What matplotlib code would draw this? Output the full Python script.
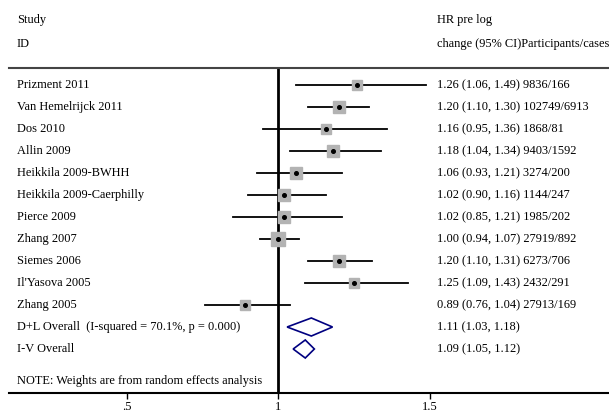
import numpy as np
import matplotlib.pyplot as plt

studies = ["Prizment 2011", "Van Hemelrijck 2011", "Dos 2010", "Allin 2009",
           "Heikkila 2009-BWHH", "Heikkila 2009-Caerphilly", "Pierce 2009",
           "Zhang 2007", "Siemes 2006", "Il'Yasova 2005", "Zhang 2005"]
hr = [1.26, 1.20, 1.16, 1.18, 1.06, 1.02, 1.02, 1.00, 1.20, 1.25, 0.89]
lo = [1.06, 1.10, 0.95, 1.04, 0.93, 0.90, 0.85, 0.94, 1.10, 1.09, 0.76]
hi = [1.49, 1.30, 1.36, 1.34, 1.21, 1.16, 1.21, 1.07, 1.31, 1.43, 1.04]
cases = ["9836/166", "102749/6913", "1868/81", "9403/1592", "3274/200",
         "1144/247", "1985/202", "27919/892", "6273/706", "2432/291", "27913/169"]
weights = [6.0, 10.7, 7.4, 9.0, 9.0, 10.7, 9.0, 12.6, 10.7, 7.4, 7.4]

pooled_labels = ["D+L Overall  (I-squared = 70.1%, p = 0.000)", "I-V Overall"]
pooled_hr = [1.11, 1.09]
pooled_lo = [1.03, 1.05]
pooled_hi = [1.18, 1.12]

xticks = [0.5, 1, 1.5]
xticklabels = [".5", "1", "1.5"]

plt.rcParams['font.family'] = ['Liberation Serif', 'DejaVu Serif']
fs = 8.9

fig = plt.figure(figsize=(6.09, 4.15), dpi=100)
W, H = 609, 415
ax = fig.add_axes([9 / W, (H - 393) / H, 600 / W, (393 - 68) / H])
ax.set_xlim(1 - 269 / 303, 1 + 331 / 303)
ax.set_ylim(14.0, -17 / 22)
tr = ax.get_yaxis_transform()

# reference line at 1
ax.axvline(1, color='black', lw=2.0, zorder=1)

# study rows
for i in range(len(studies)):
    ax.plot([lo[i], hi[i]], [i, i], color='black', lw=1.3, zorder=2)
    side = 3.8 * np.sqrt(weights[i]) * 0.72
    ax.plot(hr[i], i, marker='s', ms=side, mfc='#b3b3b3', mec='#b3b3b3', zorder=3)
    ax.plot(hr[i], i, marker='o', ms=2.6, color='black', zorder=4)
    ax.text(0.0133, i, studies[i], transform=tr, va='center', ha='left', fontsize=fs)
    ax.text(0.713, i, "%.2f (%.2f, %.2f) %s" % (hr[i], lo[i], hi[i], cases[i]),
            transform=tr, va='center', ha='left', fontsize=fs)

# pooled diamonds
half = 0.41
for j in range(len(pooled_hr)):
    y = len(studies) + j
    ax.fill([pooled_lo[j], pooled_hr[j], pooled_hi[j], pooled_hr[j]],
            [y, y - half, y, y + half], facecolor='white', edgecolor='#000080',
            lw=1.2, zorder=3)
    ax.text(0.0133, y, pooled_labels[j], transform=tr, va='center', ha='left', fontsize=fs)
    ax.text(0.713, y, "%.2f (%.2f, %.2f)" % (pooled_hr[j], pooled_lo[j], pooled_hi[j]),
            transform=tr, va='center', ha='left', fontsize=fs)

ax.text(0.0133, 13.45, "NOTE: Weights are from random effects analysis",
        transform=tr, va='center', ha='left', fontsize=fs)

# header
ax.text(0.0133, -2.95, "Study", transform=tr, va='center', ha='left', fontsize=fs, clip_on=False)
ax.text(0.0133, -1.86, "ID", transform=tr, va='center', ha='left', fontsize=fs, clip_on=False)
ax.text(0.713, -2.95, "HR pre log", transform=tr, va='center', ha='left', fontsize=fs, clip_on=False)
ax.text(0.713, -1.86, "change (95% CI)Participants/cases", transform=tr,
        va='center', ha='left', fontsize=fs, clip_on=False)

for s in ['left', 'right']:
    ax.spines[s].set_visible(False)
ax.spines['top'].set_color('#444444')
ax.spines['top'].set_linewidth(1.5)
ax.spines['bottom'].set_linewidth(1.5)
ax.set_yticks([])
ax.set_xticks(xticks)
ax.set_xticklabels(xticklabels, fontsize=fs)
ax.tick_params(axis='x', length=4, width=1, pad=2)

fig.savefig("out.png", dpi=100)
